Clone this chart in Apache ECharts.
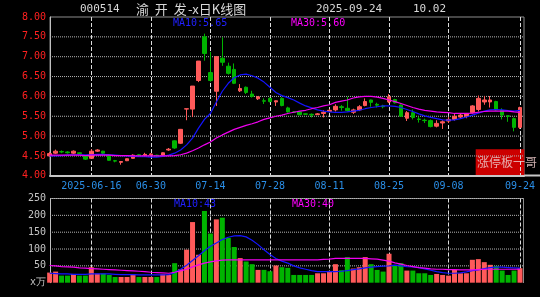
<!DOCTYPE html>
<html><head><meta charset="utf-8">
<script src="https://cdn.jsdelivr.net/npm/echarts@6/dist/echarts.min.js"></script>
<style>html,body{margin:0;padding:0;background:#000;}#c{width:540px;height:297px;}</style>
</head><body><div id="c"></div>
<script>
const dates = ['2025-06-05','2025-06-06','2025-06-09','2025-06-10','2025-06-11','2025-06-12','2025-06-13',
'2025-06-16','2025-06-17','2025-06-18','2025-06-19','2025-06-20','2025-06-23','2025-06-24','2025-06-25','2025-06-26','2025-06-27',
'2025-06-30','2025-07-01','2025-07-02','2025-07-03','2025-07-04','2025-07-07','2025-07-08','2025-07-09','2025-07-10','2025-07-11',
'2025-07-14','2025-07-15','2025-07-16','2025-07-17','2025-07-18','2025-07-21','2025-07-22','2025-07-23','2025-07-24','2025-07-25',
'2025-07-28','2025-07-29','2025-07-30','2025-07-31','2025-08-01','2025-08-04','2025-08-05','2025-08-06','2025-08-07','2025-08-08',
'2025-08-11','2025-08-12','2025-08-13','2025-08-14','2025-08-15','2025-08-18','2025-08-19','2025-08-20','2025-08-21','2025-08-22',
'2025-08-25','2025-08-26','2025-08-27','2025-08-28','2025-08-29','2025-09-01','2025-09-02','2025-09-03','2025-09-04','2025-09-05',
'2025-09-08','2025-09-09','2025-09-10','2025-09-11','2025-09-12','2025-09-15','2025-09-16','2025-09-17','2025-09-18','2025-09-19',
'2025-09-22','2025-09-23','2025-09-24'];

const open = [4.50,4.57,4.61,4.60,4.57,4.58,4.51,4.44,4.62,4.62,4.51,4.38,4.34,4.38,4.44,4.53,4.52,4.53,4.52,4.52,
4.65,4.88,4.82,5.68,5.68,6.40,7.50,6.60,6.13,6.96,6.76,6.68,6.14,6.23,6.06,5.94,5.89,5.95,5.86,5.95,
5.71,5.61,5.61,5.56,5.55,5.54,5.57,5.62,5.66,5.74,5.70,5.60,5.66,5.77,5.91,5.80,5.76,5.86,5.92,5.78,
5.45,5.59,5.43,5.40,5.39,5.25,5.33,5.38,5.42,5.48,5.50,5.59,5.67,5.86,5.86,5.87,5.65,5.51,5.44,5.22];
const close = [4.56,4.62,4.60,4.58,4.62,4.56,4.42,4.62,4.65,4.57,4.39,4.37,4.36,4.43,4.52,4.52,4.54,4.55,4.50,4.58,
4.67,4.70,5.17,5.69,6.26,6.89,7.08,6.40,7.00,6.86,6.58,6.33,6.20,6.10,6.00,5.99,5.88,5.87,5.89,5.77,
5.61,5.60,5.54,5.55,5.53,5.56,5.60,5.65,5.75,5.72,5.64,5.66,5.74,5.87,5.85,5.78,5.74,5.99,5.84,5.50,
5.59,5.47,5.42,5.39,5.24,5.32,5.36,5.42,5.50,5.53,5.57,5.76,5.95,5.91,5.91,5.66,5.53,5.50,5.22,5.72];
const low = [4.48,4.55,4.57,4.56,4.55,4.55,4.40,4.43,4.60,4.55,4.38,4.34,4.28,4.37,4.43,4.50,4.49,4.52,4.49,4.51,
4.63,4.68,4.80,5.40,5.48,6.36,6.90,6.37,5.76,6.77,6.55,6.31,6.11,6.06,5.97,5.91,5.81,5.85,5.76,5.75,
5.59,5.58,5.52,5.53,5.47,5.53,5.47,5.60,5.62,5.64,5.62,5.56,5.63,5.75,5.74,5.72,5.70,5.83,5.82,5.49,
5.38,5.42,5.34,5.33,5.22,5.22,5.18,5.33,5.39,5.45,5.45,5.57,5.62,5.79,5.72,5.64,5.42,5.36,5.12,5.18];
const high = [4.60,4.66,4.64,4.62,4.64,4.59,4.52,4.67,4.67,4.63,4.54,4.40,4.36,4.44,4.54,4.55,4.58,4.57,4.53,4.59,
4.70,4.89,5.18,5.69,6.26,6.89,7.58,7.12,7.00,7.49,6.85,6.83,6.31,6.25,6.14,6.01,5.95,5.97,5.90,5.98,
5.74,5.63,5.62,5.57,5.57,5.58,5.65,5.68,5.80,5.78,5.99,5.69,5.78,5.95,5.92,5.84,5.79,6.06,5.94,5.80,
5.63,5.67,5.49,5.44,5.42,5.40,5.40,5.48,5.57,5.56,5.58,5.78,6.02,6.01,6.01,5.89,5.70,5.52,5.47,5.74];
const volume = [30,33,21,21,26,21,21,46,27,27,23,17,17,17,25,17,17,17,17,25,
23,58,40,98,180,83,213,146,188,193,133,106,73,63,55,38,38,34,51,46,
44,23,23,23,23,28,28,35,55,37,76,42,46,76,55,38,33,86,53,58,
36,36,28,28,23,26,23,21,38,28,28,68,70,61,53,50,36,23,36,43];
const ma10 = [4.50,4.50,4.51,4.52,4.53,4.53,4.53,4.53,4.54,4.54,4.53,4.52,4.51,4.50,4.49,4.48,4.48,4.47,4.47,4.49,
4.52,4.57,4.65,4.78,4.95,5.20,5.42,5.57,5.86,6.13,6.33,6.47,6.54,6.56,6.52,6.46,6.36,6.23,6.10,6.02,
5.97,5.91,5.83,5.76,5.71,5.66,5.63,5.61,5.60,5.60,5.61,5.63,5.65,5.69,5.72,5.74,5.76,5.76,5.75,5.72,
5.67,5.62,5.56,5.51,5.47,5.44,5.41,5.40,5.41,5.44,5.48,5.53,5.58,5.63,5.66,5.67,5.66,5.64,5.63,5.65];
const ma30 = [4.52,4.52,4.52,4.52,4.52,4.52,4.51,4.52,4.52,4.52,4.52,4.51,4.51,4.51,4.50,4.50,4.50,4.50,4.50,4.50,
4.50,4.51,4.53,4.57,4.63,4.70,4.78,4.85,4.95,5.03,5.10,5.17,5.22,5.27,5.31,5.36,5.42,5.46,5.50,5.53,
5.57,5.60,5.63,5.65,5.69,5.72,5.76,5.79,5.85,5.88,5.91,5.96,5.99,6.00,6.00,5.98,5.95,5.91,5.87,5.82,
5.77,5.72,5.68,5.65,5.63,5.61,5.60,5.59,5.57,5.57,5.57,5.58,5.60,5.62,5.63,5.63,5.63,5.63,5.61,5.60];
const volMa10 = [28,27,26,26,25,25,25,26,26,26,26,25,24,24,24,23,23,23,23,23,
24,30,40,52,66,80,95,108,118,128,135,139,140,136,126,113,98,84,72,64,
58,50,44,40,36,33,33,33,33,34,36,39,41,44,46,48,49,50,52,50,
48,47,45,41,37,33,30,28,28,29,32,36,38,42,45,46,46,45,44,43];
const volMa30 = [51,50,48,47,46,44,43,42,41,40,39,38,37,36,35,34,33,31,30,29,
28,31,35,40,47,53,58,62,65,67,68,68,68,68,68,68,68,68,68,68,
68,68,68,68,68,68,69,70,72,72,72,72,72,72,71,70,67,64,59,55,
51,48,45,43,41,40,40,39,39,38,38,38,39,40,40,40,40,40,40,40];
const dateTickIdx = [7,17,27,37,47,57,67,79];
const priceTicks = [4.5, 5.0, 5.5, 6.0, 6.5, 7.0, 7.5];
const volTicks = [50, 100, 150, 200, 250];
const priceMin = 4, priceMax = 8, priceStep = 0.5;
const volMin = 0, volMax = 250, volStep = 50;

const UP = '#ff5a5a', DOWN = '#00b400', BLUE = '#1414ff', MAG = '#f000f0';
const MONO = 'DejaVu Sans Mono';
const X_MIN = 0.06, X_MAX = 79.67;

function xAxisCfg(gridIndex, main) {
  return {
    type: 'value', gridIndex, min: X_MIN, max: X_MAX,
    axisLine: {show: main, onZero: false, lineStyle: {color: '#c8c8c8', width: 2}},
    axisTick: {show: false, customValues: dateTickIdx},
    axisLabel: {show: main, customValues: dateTickIdx, color: '#2a8ee6', fontFamily: MONO, fontSize: 10, margin: 6,
      formatter: v => { const i = Math.round(v); return i === dateTickIdx[0] ? dates[i] : dates[i].slice(5); }},
    splitLine: {show: true, lineStyle: {color: '#dcdcdc', type: [4, 2], width: 1}}
  };
}
const gridLineSeries = (vals, axisIndex) => vals.map(v => ({
  type: 'line', xAxisIndex: axisIndex, yAxisIndex: axisIndex, silent: true, z: 1,
  showSymbol: false, symbol: 'none', data: [[X_MIN, v], [X_MAX, v]],
  lineStyle: {color: '#b4b4b4', type: [1, 1], width: 1}
}));
const chart = echarts.init(document.getElementById('c'), null, {renderer: 'canvas'});
const pt = (arr) => arr.map((v, i) => [i, v]);
chart.setOption({
  backgroundColor: '#000',
  animation: false,
  grid: [
    {left: 50, right: 16, top: 17, height: 158.8, show: true, borderColor: '#8c8c8c', borderWidth: 1, backgroundColor: 'transparent'},
    {left: 50, right: 16, top: 198.5, height: 84.2}
  ],
  xAxis: [xAxisCfg(0, true), xAxisCfg(1, false)],
  yAxis: [
    {type: 'value', gridIndex: 0, min: priceMin, max: priceMax, interval: priceStep,
     axisLine: {show: true, lineStyle: {color: '#c0c0c0'}}, axisTick: {show: false},
     axisLabel: {color: '#ff2020', fontFamily: MONO, fontSize: 10, margin: 4, formatter: v => v.toFixed(2)},
     splitLine: {show: false}},
    {type: 'value', gridIndex: 1, min: volMin, max: volMax, interval: volStep,
     axisLine: {show: true, lineStyle: {color: '#c0c0c0'}}, axisTick: {show: false},
     axisLabel: {color: '#c4c4c4', fontFamily: MONO, fontSize: 10, margin: 4, formatter: v => v === 0 ? 'x万' : String(v)},
     splitLine: {show: false}}
  ],
  series: [
    ...gridLineSeries(priceTicks, 0),
    ...gridLineSeries(volTicks, 1),
    {type: 'candlestick', xAxisIndex: 0, yAxisIndex: 0, clip: false, barWidth: 4, z: 3,
     data: dates.map((d, i) => [i, open[i], close[i], low[i], high[i]]),
     itemStyle: {color: UP, color0: DOWN, borderColor: UP, borderColor0: DOWN, borderWidth: 1}},
    {type: 'line', xAxisIndex: 0, yAxisIndex: 0, z: 4, data: pt(ma10), showSymbol: false, lineStyle: {color: BLUE, width: 1.2}},
    {type: 'line', xAxisIndex: 0, yAxisIndex: 0, z: 4, data: pt(ma30), showSymbol: false, lineStyle: {color: MAG, width: 1.2}},
    {type: 'bar', xAxisIndex: 1, yAxisIndex: 1, barWidth: 5, z: 3,
     data: volume.map((v, i) => ({value: [i, v], itemStyle: {color: close[i] >= open[i] ? UP : DOWN}}))},
    {type: 'line', xAxisIndex: 1, yAxisIndex: 1, z: 4, data: pt(volMa10), showSymbol: false, lineStyle: {color: BLUE, width: 1.2}},
    {type: 'line', xAxisIndex: 1, yAxisIndex: 1, z: 4, data: pt(volMa30), showSymbol: false, lineStyle: {color: MAG, width: 1.2}}
  ],
  graphic: [
    {type: 'line', shape: {x1: 524, y1: 175.5, x2: 540, y2: 175.5}, style: {stroke: '#c8c8c8', lineWidth: 2}},
    {type: 'line', shape: {x1: 50, y1: 198.5, x2: 524, y2: 198.5}, style: {stroke: '#8c8c8c', lineWidth: 1}},
    {type: 'line', shape: {x1: 523.5, y1: 198.5, x2: 523.5, y2: 283}, style: {stroke: '#8c8c8c', lineWidth: 1}},
    {type: 'text', x: 80, y: 9, style: {text: '000514', fill: '#d8d8d8', font: '11px "DejaVu Sans Mono"', verticalAlign: 'middle'}},
    {type: 'text', x: 136, y: 9, style: {text: '渝  开  发', fill: '#d8d8d8', font: '13px "Noto Sans CJK SC"', verticalAlign: 'middle'}},
    {type: 'text', x: 188, y: 9, style: {text: '-x日K线图', fill: '#d8d8d8', font: '13px "Noto Sans CJK SC"', verticalAlign: 'middle'}},
    {type: 'text', x: 316, y: 9, style: {text: dates[dates.length - 1], fill: '#d8d8d8', font: '11px "DejaVu Sans Mono"', verticalAlign: 'middle'}},
    {type: 'text', x: 413, y: 9, style: {text: '10.02', fill: '#d8d8d8', font: '11px "DejaVu Sans Mono"', verticalAlign: 'middle'}},
    {type: 'text', x: 173, y: 23.5, style: {text: 'MA10:' + ma10[ma10.length - 1].toFixed(2), fill: '#2020ff', font: '10px "DejaVu Sans Mono"', verticalAlign: 'middle'}},
    {type: 'text', x: 291, y: 23.5, style: {text: 'MA30:' + ma30[ma30.length - 1].toFixed(2), fill: '#ff00ff', font: '10px "DejaVu Sans Mono"', verticalAlign: 'middle'}},
    {type: 'text', x: 174, y: 204.5, style: {text: 'MA10:' + volMa10[volMa10.length - 1], fill: '#2020ff', font: '10px "DejaVu Sans Mono"', verticalAlign: 'middle'}},
    {type: 'text', x: 292, y: 204.5, style: {text: 'MA30:' + volMa30[volMa30.length - 1], fill: '#ff00ff', font: '10px "DejaVu Sans Mono"', verticalAlign: 'middle'}},
    {type: 'rect', shape: {x: 475.7, y: 149.3, width: 48.6, height: 25.7}, style: {fill: '#cc0000'}},
    {type: 'text', x: 477, y: 162.5, style: {text: '涨停板一哥', fill: 'rgba(235,200,200,0.85)', font: '12px "Noto Sans CJK SC"', verticalAlign: 'middle'}}
  ]
});
</script>
</body></html>
